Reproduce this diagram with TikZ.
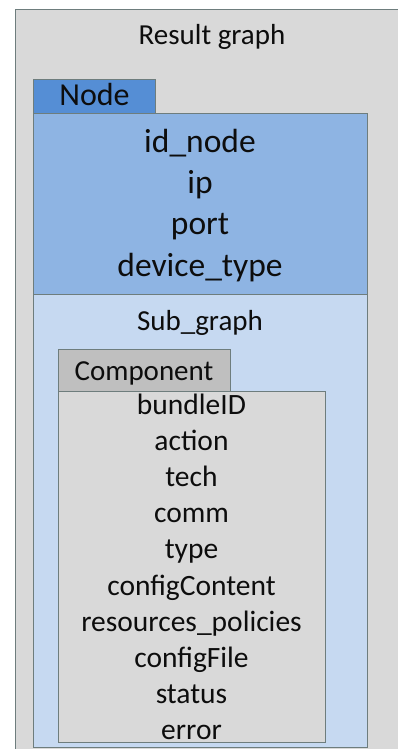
\documentclass[tikz,border=0pt]{standalone}
\usepackage{fontspec}
\setmainfont{Carlito}
\usetikzlibrary{positioning}
\definecolor{outergray}{HTML}{D9D9D9}
\definecolor{tabblue}{HTML}{558ED5}
\definecolor{nodeblue}{HTML}{8EB4E3}
\definecolor{subblue}{HTML}{C6D9F1}
\definecolor{tabgray}{HTML}{BFBFBF}
\definecolor{edgegray}{HTML}{6E7D7D}
\definecolor{ink}{HTML}{0D0D0D}
\tikzset{%
panel/.style={draw=edgegray, line width=0.9pt, rectangle, inner sep=0pt, anchor=north west},
nodefield/.style={font=\fontsize{33.5}{34}\selectfont, text=ink, inner sep=0pt, text height=27.5pt, text depth=13.5pt},
compfield/.style={font=\fontsize{29.5}{30}\selectfont, text=ink, inner sep=0pt, text height=24pt, text depth=11.8pt},
title/.style={font=\fontsize{29}{30}\selectfont, text=ink, inner sep=0pt, anchor=base}
}
\begin{document}
\begin{tikzpicture}[x=1pt,y=-1pt]
	\useasboundingbox[fill=white] (0,0) rectangle (397,749);
	% outer container
	\node[panel, fill=outergray, minimum width=420pt, minimum height=780pt] (result) at (15,9) {};
	\node[title] (resulttitle) at (212,45) {Result graph};
	
	% node record
	\node[panel, fill=tabblue, minimum width=122pt, minimum height=34pt] (nodetab) at (33,79) {};
	\node[panel, fill=subblue, minimum width=334pt, minimum height=453pt] (subbody) at (33,294) {};
	\node[panel, fill=nodeblue, minimum width=334pt, minimum height=181pt] (nodebody) at (33,113) {};
	\node[title, font=\fontsize{32}{33}\selectfont] (nodetitle) at (94.5,106) {Node};
	
	\node[nodefield, anchor=base] (idnode) at (200,152) {id\_node};
	\node[nodefield] (ip) [below=0pt of idnode] {ip};
	\node[nodefield] (port) [below=0pt of ip] {port};
	\node[nodefield] (devtype) [below=0pt of port] {device\_type};
	
	\node[title] (subtitle) at (200,330) {Sub\_graph};
	
	% component record
	\node[panel, fill=tabgray, minimum width=172pt, minimum height=42pt] (comptab) at (58,349) {};
	\node[panel, fill=outergray, minimum width=267pt, minimum height=351pt] (compbody) at (58,391) {};
	\node[title] (comptitle) at (144,380) {Component};
	
	\node[compfield, anchor=base] (bundle) at (191.5,414) {bundleID};
	\node[compfield] (action) [below=0pt of bundle] {action};
	\node[compfield] (tech) [below=0pt of action] {tech};
	\node[compfield] (comm) [below=0pt of tech] {comm};
	\node[compfield] (type) [below=0pt of comm] {type};
	\node[compfield] (content) [below=0pt of type] {configContent};
	\node[compfield] (policies) [below=0pt of content] {resources\_policies};
	\node[compfield] (file) [below=0pt of policies] {configFile};
	\node[compfield] (status) [below=0pt of file] {status};
	\node[compfield] (error) [below=0pt of status] {error};
\end{tikzpicture}
\end{document}
